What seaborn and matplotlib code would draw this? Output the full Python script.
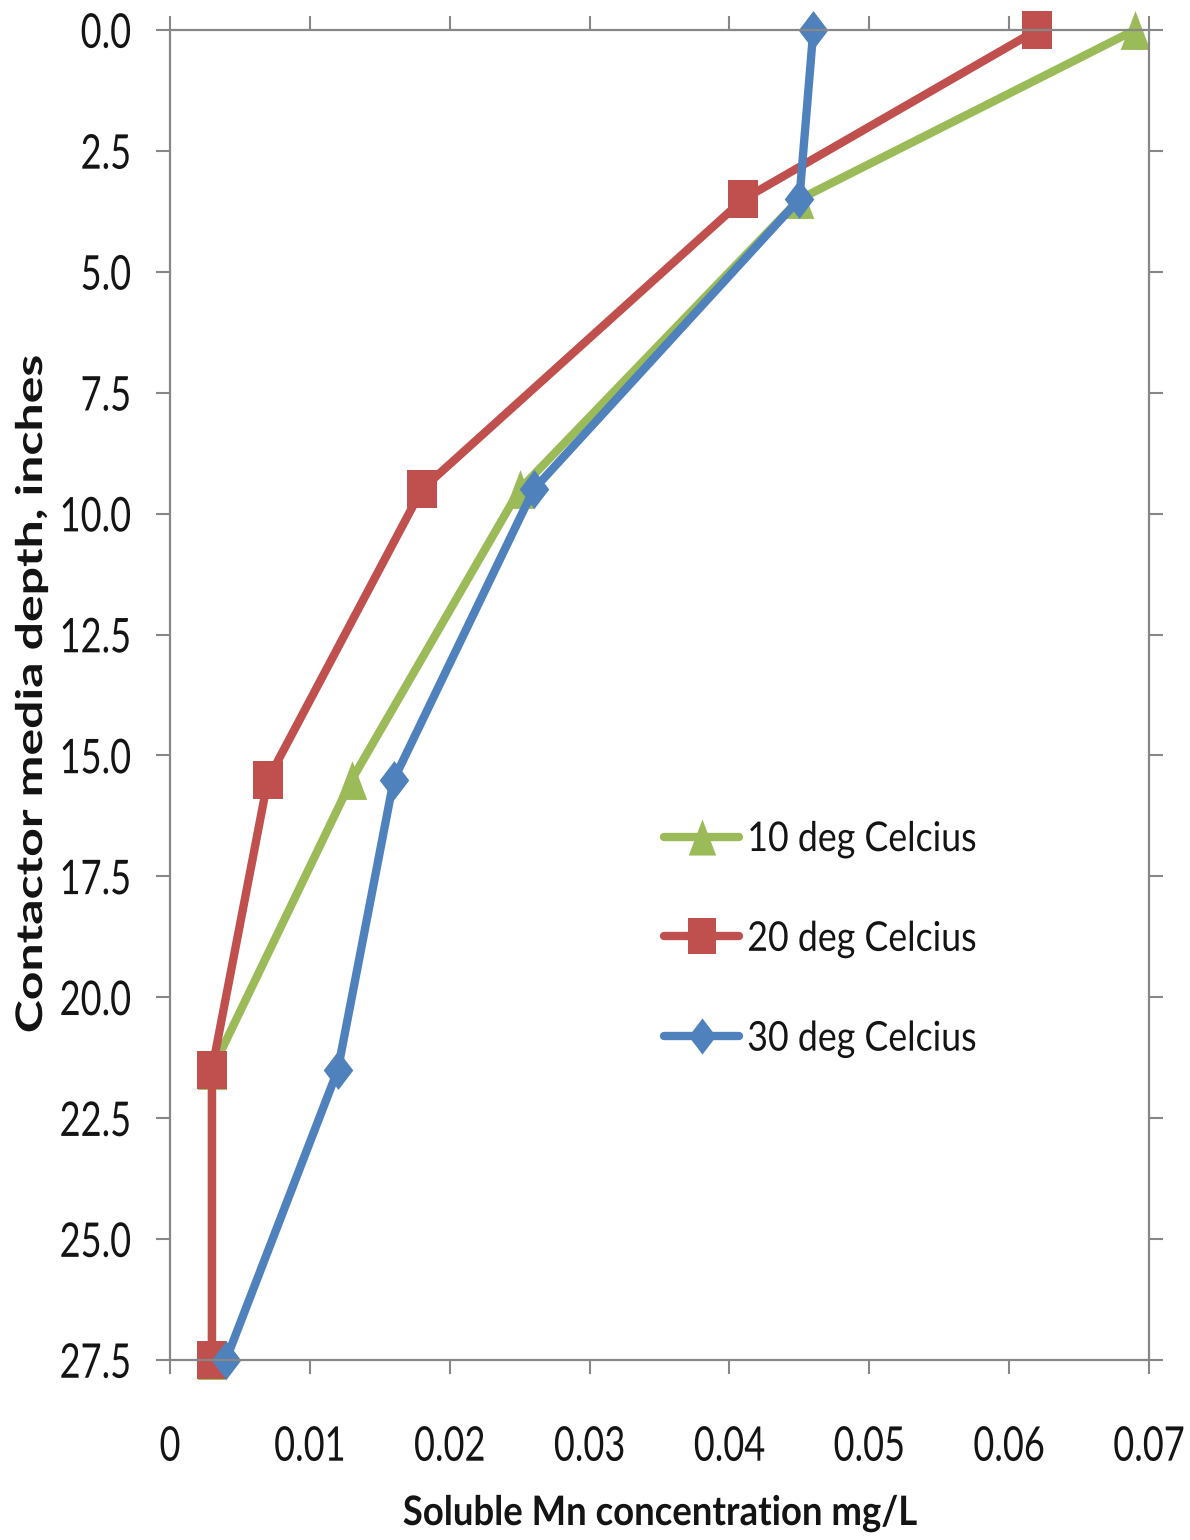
import matplotlib
matplotlib.use("Agg")
import matplotlib.pyplot as plt
import matplotlib.font_manager as fm
from matplotlib.font_manager import FontProperties
from matplotlib.textpath import TextPath
from matplotlib.transforms import Affine2D
from matplotlib.patheffects import AbstractPathEffect
import seaborn as sns
import pandas as pd

# Depth below contactor surface (inches)
depth = [0.0, 3.5, 9.5, 15.5, 21.5, 27.5]
# Soluble manganese at each depth (mg/L)
mn_10c = [0.069, 0.045, 0.025, 0.013, 0.003, 0.003]
mn_20c = [0.062, 0.041, 0.018, 0.007, 0.003, 0.003]
mn_30c = [0.046, 0.045, 0.026, 0.016, 0.012, 0.004]
series_names = ["10 deg Celcius", "20 deg Celcius", "30 deg Celcius"]

x_ticks = [0, 0.01, 0.02, 0.03, 0.04, 0.05, 0.06, 0.07]
x_tick_labels = ["0", "0.01", "0.02", "0.03", "0.04", "0.05", "0.06", "0.07"]
y_ticks = [0.0, 2.5, 5.0, 7.5, 10.0, 12.5, 15.0, 17.5, 20.0, 22.5, 25.0, 27.5]
y_tick_labels = [f"{v:.1f}" for v in y_ticks]

x_title = "Soluble Mn concentration mg/L"
y_title = "Contactor media depth, inches"

frames = []
for name, vals in zip(series_names, [mn_10c, mn_20c, mn_30c]):
    frames.append(pd.DataFrame({"depth": depth, "mn": vals, "series": name}))
df = pd.concat(frames, ignore_index=True)

sns.set_theme(style="white")
installed = {f.name for f in fm.fontManager.ttflist}
base_family = "Lato" if "Lato" in installed else "Liberation Sans"
plt.rcParams["font.family"] = [base_family, "DejaVu Sans"]

DPI = 100
W, H = 1190, 1540
AX_L, AX_R, AX_T, AX_B = 170, 1149, 30, 1360


class Stretch(AbstractPathEffect):
    """Scale glyph outlines vertically around their mid-height (tall, narrow lettering)."""

    def __init__(self, sy=1.0, cy=36.0):
        super().__init__()
        self.sy, self.cy = sy, cy

    def draw_path(self, renderer, gc, tpath, affine, rgbFace=None):
        t = Affine2D().translate(0, -self.cy).scale(1.0, self.sy).translate(0, self.cy)
        renderer.draw_path(gc, tpath, t + affine, rgbFace)


def fit_text(s, weight, width_px, height_px, ref):
    """Font size (pt) giving the wanted ink width, plus the vertical stretch for the wanted height."""
    prop = FontProperties(family=[base_family, "DejaVu Sans"], weight=weight)
    w = TextPath((0, 0), s, size=100, prop=prop).get_extents().width
    h = TextPath((0, 0), ref, size=100, prop=prop).get_extents().height
    em_px = width_px / (w / 100.0)
    pt = em_px * 72.0 / DPI
    sy = height_px / (h / 100.0 * em_px)
    return pt, sy, h / 2.0, (h / 100.0) * em_px


tick_pt, tick_sy, tick_cy, _ = fit_text("0.07", "normal", 69, 35, "0")
leg_pt, leg_sy, leg_cy, _ = fit_text(series_names[0], "normal", 225, 30, "10")
xl_pt, xl_sy, xl_cy, xl_h = fit_text(x_title, "bold", 513, 30, "S")
yl_pt, yl_sy, yl_cy, yl_h = fit_text(y_title, "bold", 675, 27, "C")

palette = {series_names[0]: "#9BBB59", series_names[1]: "#C0504D", series_names[2]: "#4F81BD"}
aspect = 0.76
markers = {
    series_names[0]: [(0, 1), (-aspect, -1), (aspect, -1)],
    series_names[1]: [(-aspect, -1), (aspect, -1), (aspect, 1), (-aspect, 1)],
    series_names[2]: [(0, 1), (aspect, 0), (0, -1), (-aspect, 0)],
}

fig = plt.figure(figsize=(W / DPI, H / DPI), dpi=DPI)
ax = fig.add_axes([AX_L / W, 1 - AX_B / H, (AX_R - AX_L) / W, (AX_B - AX_T) / H])

sns.lineplot(data=df, x="mn", y="depth", hue="series", style="series",
             hue_order=series_names, style_order=series_names,
             palette=palette, markers=markers, dashes=False, sort=False,
             estimator=None, linewidth=6, markersize=28, markeredgewidth=0,
             ax=ax, clip_on=False)

ax.set_xlim(0, 0.07)
ax.set_ylim(27.5, 0)
ax.set_xticks(x_ticks)
ax.set_xticklabels(x_tick_labels)
ax.set_yticks(y_ticks)
ax.set_yticklabels(y_tick_labels)

spine_col = "#878787"
for s in ax.spines.values():
    s.set_visible(True)
    s.set_color(spine_col)
    s.set_linewidth(1.6)

text_col = "#141414"
ax.tick_params(axis="both", which="both", direction="out", length=10, width=1.5,
               color=spine_col, labelsize=tick_pt, labelcolor=text_col)
ax.tick_params(axis="x", top=True, bottom=True, pad=40)
ax.tick_params(axis="y", left=True, right=True, pad=18)
for lbl in ax.get_xticklabels() + ax.get_yticklabels():
    lbl.set_path_effects([Stretch(tick_sy, tick_cy)])

# axis titles, placed by their baselines
ax_w, ax_h = AX_R - AX_L, AX_B - AX_T
xl_center_px = 1510
xl_base_px = xl_center_px + xl_h / 2.0
ax.set_xlabel(x_title, fontsize=xl_pt, fontweight="bold", color=text_col, va="baseline")
ax.xaxis.set_label_coords(0.5, (AX_B - xl_base_px) / ax_h)
ax.xaxis.label.set_path_effects([Stretch(xl_sy, xl_cy)])

yl_center_px = 28.5
yl_base_px = yl_center_px + yl_h / 2.0
ax.set_ylabel(y_title, fontsize=yl_pt, fontweight="bold", color=text_col, va="baseline")
ax.yaxis.set_label_coords((yl_base_px - AX_L) / ax_w, 0.5)
ax.yaxis.label.set_path_effects([Stretch(yl_sy, yl_cy)])

handles, labels = ax.get_legend_handles_labels()
leg = ax.legend(handles, labels, loc="center left", bbox_to_anchor=(0.505, 0.317),
                frameon=False, fontsize=leg_pt, handlelength=2.1, handletextpad=0.22,
                labelspacing=1.87, borderpad=0, borderaxespad=0)
for h in leg.legend_handles:
    h.set_linewidth(6)
    h.set_markersize(26)
    h.set_markeredgewidth(0)
for t in leg.get_texts():
    t.set_color(text_col)
    t.set_path_effects([Stretch(leg_sy, leg_cy)])

fig.savefig("out.png", dpi=DPI)
